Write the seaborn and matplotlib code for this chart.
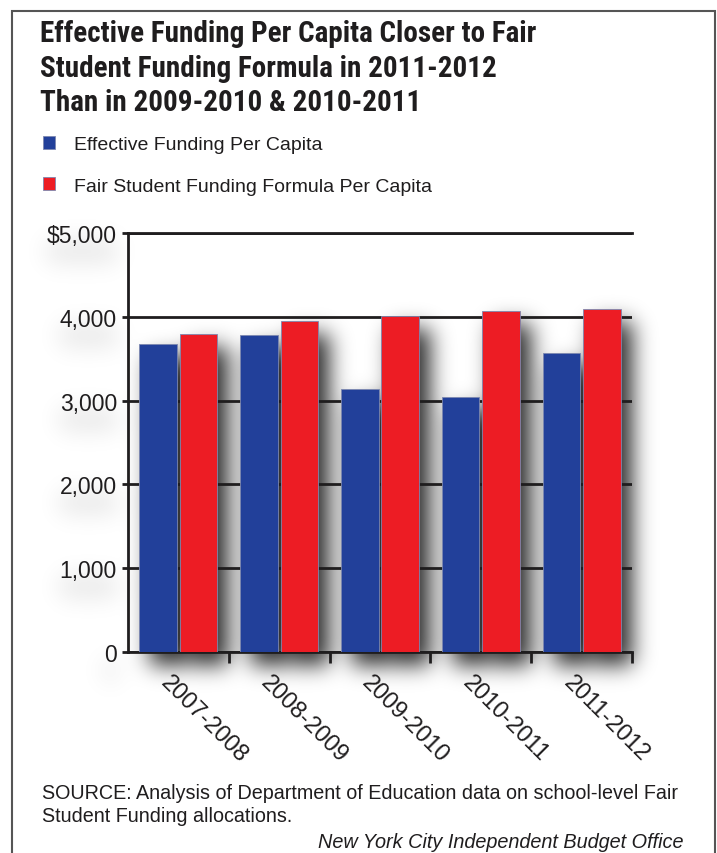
import matplotlib
matplotlib.use("Agg")
import numpy as np
import matplotlib.pyplot as plt
from matplotlib import font_manager
from matplotlib.patches import Rectangle
from matplotlib.ticker import FixedLocator
import matplotlib.transforms as mtransforms
import seaborn as sns
import pandas as pd

years = ["2007-2008", "2008-2009", "2009-2010", "2010-2011", "2011-2012"]
effective = [3670, 3785, 3135, 3045, 3570]
fair_formula = [3793, 3948, 4008, 4068, 4092]
series_names = ["Effective Funding Per Capita", "Fair Student Funding Formula Per Capita"]
y_ticks = [0, 1000, 2000, 3000, 4000, 5000]
y_tick_labels = ["0", "1,000", "2,000", "3,000", "4,000", "$5,000"]
title = ("Effective Funding Per Capita Closer to Fair\n"
         "Student Funding Formula in 2011-2012\n"
         "Than in 2009-2010 & 2010-2011")
source = ("SOURCE: Analysis of Department of Education data on school-level Fair\n"
          "Student Funding allocations.")
credit = "New York City Independent Budget Office"

df = pd.DataFrame({
    "year": years * 2,
    "value": effective + fair_formula,
    "series": [series_names[0]] * len(years) + [series_names[1]] * len(years),
})

# ---- font selection -------------------------------------------------------
flist = font_manager.fontManager.ttflist
def has(name, stretch=None):
    for f in flist:
        if f.name == name and (stretch is None or str(f.stretch) == stretch):
            return True
    return False

title_family, title_stretch = "DejaVu Sans", "normal"
for nm, st in [("Liberation Sans Narrow", None), ("Roboto Condensed", None),
               ("Open Sans Condensed", None), ("Noto Sans Condensed", None),
               ("DejaVu Sans", "condensed"), ("Open Sans", "condensed"),
               ("Noto Sans", "condensed")]:
    if has(nm, st):
        title_family, title_stretch = nm, (st or "normal")
        break
body = "Liberation Sans" if has("Liberation Sans") else "DejaVu Sans"

sns.set_theme(style="white")
plt.rcParams["font.family"] = [body, "DejaVu Sans"]

BLUE = "#22409A"
RED = "#ED1C24"
INK = "#1f1d1e"
W, H = 717, 854

fig = plt.figure(figsize=(W / 100, H / 100), dpi=100)
ax = fig.add_axes([128 / W, 1 - 653 / H, 504 / W, 419 / H])
ax.set_facecolor("none")

sns.barplot(data=df, x="year", y="value", hue="series", order=years,
            hue_order=series_names, palette=[BLUE, RED],
            width=0.8, gap=0.07, ax=ax, zorder=3, saturation=1,
            edgecolor="#7d88b0", linewidth=0.6)

ax.set_xlim(-0.5, 4.5)
ax.set_ylim(0, 5000)
ax.set_axisbelow("line")
ax.yaxis.grid(True, color=INK, linewidth=2)
ax.xaxis.grid(False)
ax.set_xlabel("")
ax.set_ylabel("")

for s in ["left", "bottom", "top"]:
    ax.spines[s].set_visible(True)
    ax.spines[s].set_color(INK)
    ax.spines[s].set_linewidth(2)
ax.spines["right"].set_visible(False)

ax.yaxis.set_major_locator(FixedLocator(y_ticks))
ax.set_yticklabels(y_tick_labels)
ax.tick_params(axis="y", which="major", length=4, width=2, color=INK,
               labelsize=16.5, labelcolor=INK, pad=4, left=True)

ax.xaxis.set_minor_locator(FixedLocator([0.5, 1.5, 2.5, 3.5, 4.5]))
ax.tick_params(axis="x", which="minor", length=8, width=2, color=INK, bottom=True)
ax.tick_params(axis="x", which="major", length=0, labelsize=17, labelcolor=INK, pad=14)
offset = mtransforms.ScaledTranslation(-7 / 100, 0, fig.dpi_scale_trans)
for lab in ax.get_xticklabels():
    lab.set_rotation(-45)
    lab.set_rotation_mode("anchor")
    lab.set_ha("left")
    lab.set_va("top")
    lab.set_transform(lab.get_transform() + offset)

leg = ax.get_legend()
handles = leg.legend_handles
leg.remove()
fig.legend(handles, series_names, loc="upper left",
           bbox_to_anchor=(43 / W, 1 - 137 / H), frameon=False,
           fontsize=14, handlelength=0.62, handleheight=0.62, labelcolor=INK,
           labelspacing=1.25, handletextpad=1.0, borderpad=0, borderaxespad=0)

fig.text(40 / W, 1 - 20 / H, title, ha="left", va="top", fontsize=21,
         fontweight="bold", family=[title_family, "DejaVu Sans"],
         fontstretch=title_stretch, color=INK, linespacing=1.3)
fig.text(42 / W, 1 - 784 / H, source, ha="left", va="top", fontsize=14.2,
         color=INK, linespacing=1.25)
fig.text(683 / W, 1 - 843 / H, credit, ha="right", va="center", fontsize=14.3,
         style="italic", color=INK)

fig.patches.append(Rectangle((12 / W, -0.05), (715 - 12) / W, 1.05 - 12 / H,
                             transform=fig.transFigure, fill=False,
                             edgecolor="#555555", linewidth=1.5))

# ---- soft drop shadows, placed from the drawn artists' extents -------------
fig.canvas.draw()

def gblur(a, sigma):
    r = int(3 * sigma)
    x = np.arange(-r, r + 1)
    k = np.exp(-0.5 * (x / sigma) ** 2)
    k /= k.sum()
    a = np.apply_along_axis(lambda v: np.convolve(v, k, mode="same"), 0, a)
    a = np.apply_along_axis(lambda v: np.convolve(v, k, mode="same"), 1, a)
    return a

def stamp(mask, bb, dx, dy, w=1.0):
    x0 = int(round(bb.x0 + dx)); x1 = int(round(bb.x1 + dx))
    r0 = int(round(H - bb.y1 + dy)); r1 = int(round(H - bb.y0 + dy))
    x0, x1 = max(x0, 0), min(x1, W)
    r0, r1 = max(r0, 0), min(r1, H)
    if x1 > x0 and r1 > r0:
        mask[r0:r1, x0:x1] = np.maximum(mask[r0:r1, x0:x1], w)

bar_mask = np.zeros((H, W))
for p in ax.patches:
    stamp(bar_mask, p.get_window_extent(), 11, 13)
soft_mask = np.zeros((H, W))
for gl in ax.get_ygridlines():
    stamp(soft_mask, gl.get_window_extent(), 4, 8, 0.5)
for lab in ax.get_yticklabels():
    stamp(soft_mask, lab.get_window_extent(), 0, 16, 0.6)

alpha = np.clip(gblur(bar_mask, 11) * 0.85 + gblur(soft_mask, 12) * 0.16, 0, 1)
img = np.zeros((H, W, 4))
img[..., 3] = alpha
fig.figimage(img, xo=0, yo=0, origin="upper", zorder=-1)

fig.savefig("out.png", dpi=100)
